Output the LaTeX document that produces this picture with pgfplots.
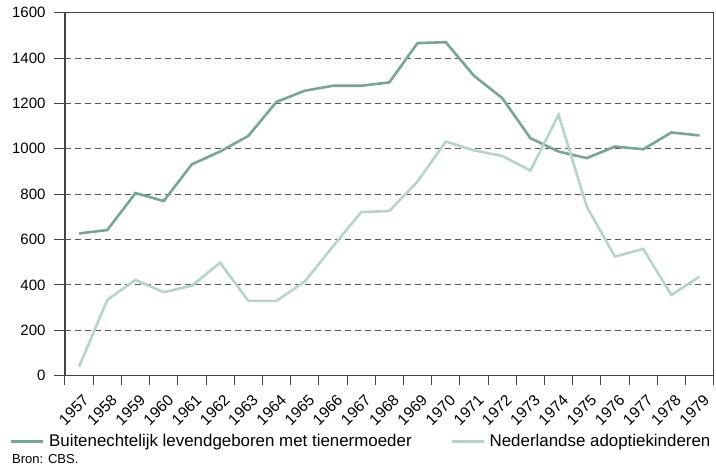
\documentclass[border=0pt]{standalone}
\usepackage{pgfplots}
\pgfplotsset{compat=1.18}
\usepackage{fontspec}
\setmainfont{Liberation Sans}
\definecolor{darkser}{HTML}{79A593}
\definecolor{lightser}{HTML}{B7D4C9}
\definecolor{framec}{HTML}{444444}
\definecolor{gridc}{HTML}{555555}
\pgfplotstableread{
x y1 y2
0 627 40
1 642 334
2 805 422
3 770 368
4 932 397
5 988 498
6 1057 330
7 1207 330
8 1256 415
9 1278 570
10 1278 721
11 1293 726
12 1466 856
13 1470 1032
14 1322 993
15 1224 969
16 1047 904
17 988 1150
18 959 745
19 1010 525
20 998 559
21 1072 356
22 1059 437
}\datatable
\begin{document}
\begin{tikzpicture}
\useasboundingbox (-65pt,-94.3pt) rectangle (651pt,375.7pt);
\begin{axis}[
  at={(0pt,0pt)}, anchor=south west,
  scale only axis, width=648.7pt, height=363pt,
  xmin=-0.5, xmax=22.5, ymin=0, ymax=1600,
  ytick={0,200,...,1600},
  xtick={0,...,22},
  xticklabels={1957,1958,1959,1960,1961,1962,1963,1964,1965,1966,1967,1968,1969,1970,1971,1972,1973,1974,1975,1976,1977,1978,1979},
  minor xtick={-0.5,0.5,...,22.5},
  major x tick style={draw=none},
  tick align=outside,
  tick pos=left,
  major tick length=11pt,
  minor tick length=9pt,
  tick style={color=framec, line width=1pt},
  axis line style={color=framec, line width=1.1pt},
  ymajorgrids,
  major grid style={color=gridc, dash pattern=on 6pt off 4pt, line width=0.9pt},
  /pgf/number format/assume math mode=true,
  /pgf/number format/1000 sep={},
  yticklabel style={font=\fontsize{15}{17}\selectfont, xshift=-5pt},
  xticklabel style={font=\fontsize{15.5}{17}\selectfont, xshift=3pt, yshift=-7pt, rotate=45, anchor=north east, inner sep=0pt},
  legend columns=2,
  legend style={draw=none, fill=none, at={(axis description cs:-0.0848,-0.181)}, anchor=west,
    font=\fontsize{16.9}{19}\selectfont, inner sep=0pt,
    /tikz/every odd column/.append style={column sep=2.4pt},
    /tikz/every even column/.append style={column sep=37pt}},
  legend cell align=left,
  legend image code/.code={\draw[#1, line width=2.5pt] (0pt,0pt) -- (32pt,0pt);},
  clip=false,
]
\addplot[color=darkser, line width=2.6pt] table[x=x,y=y1] {\datatable};
\addlegendentry{Buitenechtelijk levendgeboren met tienermoeder}
\addplot[color=lightser, line width=2.6pt] table[x=x,y=y2] {\datatable};
\addlegendentry{Nederlandse adoptiekinderen}
\draw[framec, line width=1.1pt] (rel axis cs:0,0) rectangle (rel axis cs:1,1);
\end{axis}
\node[anchor=base west, font=\fontsize{13}{15}\selectfont, inner sep=0pt] at (-53pt,-88pt) {Bron: CBS.};
\end{tikzpicture}
\end{document}
